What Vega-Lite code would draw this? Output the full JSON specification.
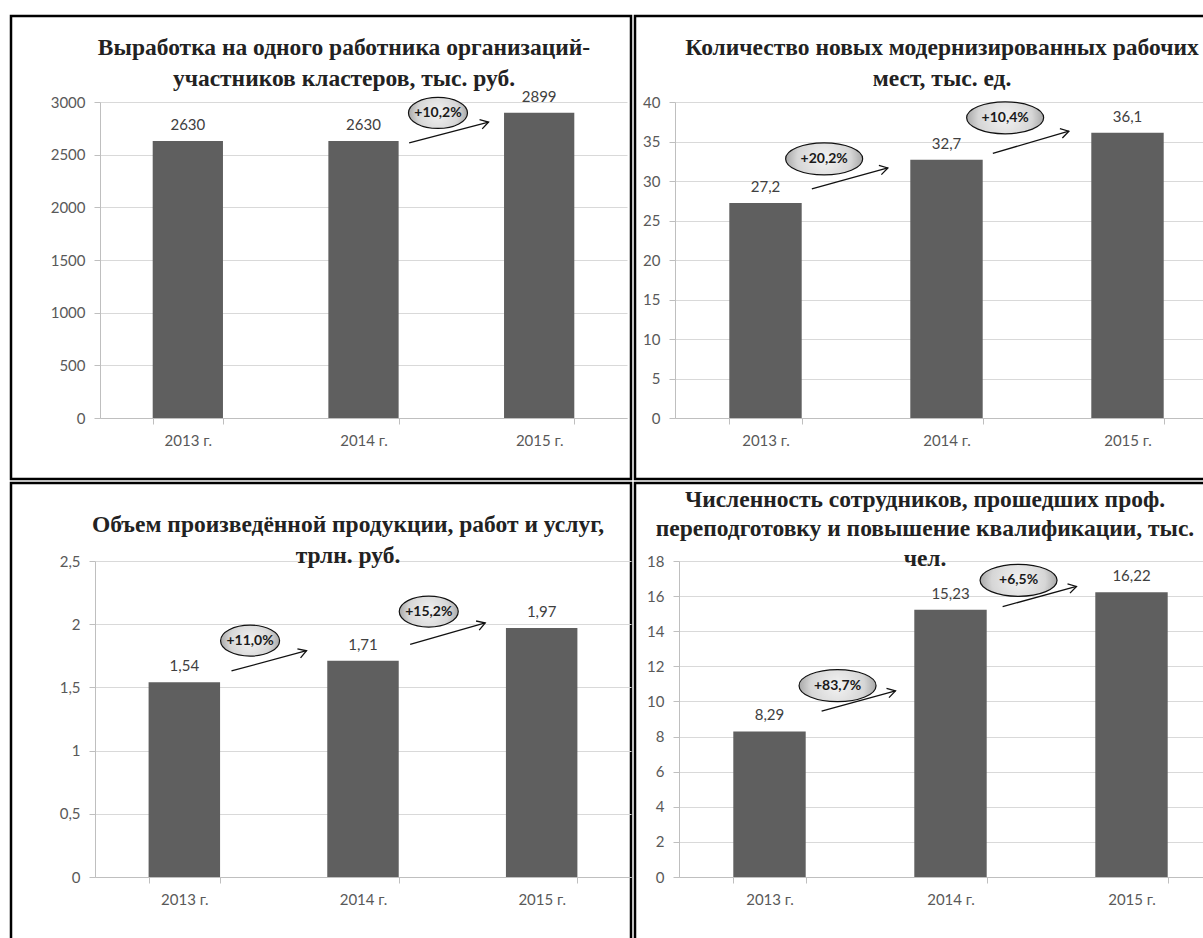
{
  "$schema": "https://vega.github.io/schema/vega-lite/v6.json",
  "padding": {"left": 9, "top": 14, "right": 0, "bottom": 0},
  "background": "white",
  "spacing": 0,
  "datasets": {
    "p1_bars": [
      {"year": "2013 г.", "value": 2630},
      {"year": "2014 г.", "value": 2630},
      {"year": "2015 г.", "value": 2899}
    ],
    "p1_notes": [
      {"from": "2014 г.", "to": "2015 г.", "y_start": 2611, "y_end": 2810, "label_y": 2896, "label": "+10,2%"}
    ],
    "p2_bars": [
      {"year": "2013 г.", "value": 27.2},
      {"year": "2014 г.", "value": 32.7},
      {"year": "2015 г.", "value": 36.1}
    ],
    "p2_notes": [
      {"from": "2013 г.", "to": "2014 г.", "y_start": 29.0, "y_end": 31.65, "label_y": 32.8, "label": "+20,2%"},
      {"from": "2014 г.", "to": "2015 г.", "y_start": 33.5, "y_end": 36.3, "label_y": 38.0, "label": "+10,4%"}
    ],
    "p3_bars": [
      {"year": "2013 г.", "value": 1.54},
      {"year": "2014 г.", "value": 1.71},
      {"year": "2015 г.", "value": 1.97}
    ],
    "p3_notes": [
      {"from": "2013 г.", "to": "2014 г.", "y_start": 1.63, "y_end": 1.79, "label_y": 1.87, "label": "+11,0%"},
      {"from": "2014 г.", "to": "2015 г.", "y_start": 1.84, "y_end": 2.01, "label_y": 2.10, "label": "+15,2%"}
    ],
    "p4_bars": [
      {"year": "2013 г.", "value": 8.29},
      {"year": "2014 г.", "value": 15.23},
      {"year": "2015 г.", "value": 16.22}
    ],
    "p4_notes": [
      {"from": "2013 г.", "to": "2014 г.", "y_start": 9.45, "y_end": 10.6, "label_y": 10.9, "label": "+83,7%"},
      {"from": "2014 г.", "to": "2015 г.", "y_start": 15.4, "y_end": 16.55, "label_y": 16.9, "label": "+6,5%"}
    ]
  },
  "vconcat": [
    {
      "spacing": 0,
      "hconcat": [
        {
          "width": 620,
          "height": 463,
          "title": {"text": ["Выработка на одного работника организаций-", "участников кластеров, тыс. руб."], "dx": 23, "offset": -74},
          "layer": [
            {
              "data": {"name": "p1_bars"},
              "mark": {"type": "bar", "color": "#5f5f5f"},
              "encoding": {
                "x": {"field": "year", "type": "nominal", "sort": null,
                  "scale": {"domain": ["2013 г.", "2014 г.", "2015 г."], "range": [89, 616], "paddingInner": 0.6, "paddingOuter": 0.3},
                  "axis": {"title": null, "offset": -61, "tickBand": "extent", "labelAngle": 0, "grid": false}},
                "y": {"field": "value", "type": "quantitative",
                  "scale": {"domain": [0, 3000], "range": [402, 86], "nice": false},
                  "axis": {"title": null, "offset": -89, "tickCount": 8, "format": "d", "grid": true}}
              }
            },
            {
              "data": {"name": "p1_bars"},
              "mark": {"type": "text", "dy": -16, "baseline": "middle", "font": "Lato", "fontSize": 15, "color": "#404040"},
              "encoding": {
                "x": {"field": "year", "type": "nominal"},
                "y": {"field": "value", "type": "quantitative"},
                "text": {"field": "value", "type": "quantitative", "format": "d"}
              }
            },
            {
              "data": {"name": "p1_notes"},
              "mark": {"type": "rule", "color": "#111111", "strokeWidth": 1.3},
              "encoding": {
                "x": {"field": "from", "type": "nominal", "bandPosition": 1.15},
                "x2": {"field": "to", "bandPosition": -0.22},
                "y": {"field": "y_start", "type": "quantitative"},
                "y2": {"field": "y_end"}
              }
            },
            {
              "data": {"name": "p1_notes"},
              "mark": {"type": "point", "shape": "M -1 -0.6 L 0 0 L -1 0.6", "size": 256, "filled": false, "stroke": "#111111", "strokeWidth": 1.3, "angle": 344, "opacity": 1},
              "encoding": {
                "x": {"field": "to", "type": "nominal", "bandPosition": -0.22},
                "y": {"field": "y_end", "type": "quantitative"}
              }
            },
            {
              "data": {"name": "p1_notes"},
              "mark": {"type": "point", "shape": "M -1 0 C -1 -0.29 -0.552 -0.525 0 -0.525 C 0.552 -0.525 1 -0.29 1 0 C 1 0.29 0.552 0.525 0 0.525 C -0.552 0.525 -1 0.29 -1 0 Z", "size": 3481, "filled": true, "opacity": 1,
                "fill": {"gradient": "radial", "x1": 0.5, "y1": 0.5, "r1": 0, "x2": 0.5, "y2": 0.5, "r2": 0.5, "stops": [{"offset": 0, "color": "#f2f2f2"}, {"offset": 0.7, "color": "#d6d6d6"}, {"offset": 1, "color": "#a8a8a8"}]},
                "stroke": "#111111", "strokeWidth": 1.2},
              "encoding": {
                "x": {"field": "from", "type": "nominal", "bandPosition": 1.56},
                "y": {"field": "label_y", "type": "quantitative"}
              }
            },
            {
              "data": {"name": "p1_notes"},
              "mark": {"type": "text", "baseline": "middle", "font": "Lato", "fontSize": 14, "fontWeight": "bold", "color": "#1a1a1a"},
              "encoding": {
                "x": {"field": "from", "type": "nominal", "bandPosition": 1.56},
                "y": {"field": "label_y", "type": "quantitative"},
                "text": {"field": "label"}
              }
            }
          ]
        },
        {
          "width": 620,
          "height": 463,
          "title": {"text": ["Количество новых модернизированных рабочих", "мест, тыс. ед."], "dx": -3, "offset": -74},
          "layer": [
            {
              "data": {"name": "p2_bars"},
              "mark": {"type": "bar", "color": "#5f5f5f"},
              "encoding": {
                "x": {"field": "year", "type": "nominal", "sort": null,
                  "scale": {"domain": ["2013 г.", "2014 г.", "2015 г."], "range": [40, 583], "paddingInner": 0.6, "paddingOuter": 0.3},
                  "axis": {"title": null, "offset": -61, "tickBand": "extent", "labelAngle": 0, "grid": false}},
                "y": {"field": "value", "type": "quantitative",
                  "scale": {"domain": [0, 40], "range": [402, 86], "nice": false},
                  "axis": {"title": null, "offset": -40, "tickCount": 8, "format": "~g", "grid": true}}
              }
            },
            {
              "data": {"name": "p2_bars"},
              "mark": {"type": "text", "dy": -16, "baseline": "middle", "font": "Lato", "fontSize": 15, "color": "#404040"},
              "encoding": {
                "x": {"field": "year", "type": "nominal"},
                "y": {"field": "value", "type": "quantitative"},
                "text": {"field": "value", "type": "quantitative", "format": ".1f"}
              }
            },
            {
              "data": {"name": "p2_notes"},
              "mark": {"type": "rule", "color": "#111111", "strokeWidth": 1.3},
              "encoding": {
                "x": {"field": "from", "type": "nominal", "bandPosition": 1.14},
                "x2": {"field": "to", "bandPosition": -0.31},
                "y": {"field": "y_start", "type": "quantitative"},
                "y2": {"field": "y_end"}
              }
            },
            {
              "data": {"name": "p2_notes"},
              "mark": {"type": "point", "shape": "M -1 -0.6 L 0 0 L -1 0.6", "size": 256, "filled": false, "stroke": "#111111", "strokeWidth": 1.3, "angle": 345, "opacity": 1},
              "encoding": {
                "x": {"field": "to", "type": "nominal", "bandPosition": -0.31},
                "y": {"field": "y_end", "type": "quantitative"}
              }
            },
            {
              "data": {"name": "p2_notes"},
              "mark": {"type": "point", "shape": "M -1 0 C -1 -0.23 -0.552 -0.416 0 -0.416 C 0.552 -0.416 1 -0.23 1 0 C 1 0.23 0.552 0.416 0 0.416 C -0.552 0.416 -1 0.23 -1 0 Z", "size": 5929, "filled": true, "opacity": 1,
                "fill": {"gradient": "radial", "x1": 0.5, "y1": 0.5, "r1": 0, "x2": 0.5, "y2": 0.5, "r2": 0.5, "stops": [{"offset": 0, "color": "#f2f2f2"}, {"offset": 0.7, "color": "#d6d6d6"}, {"offset": 1, "color": "#a8a8a8"}]},
                "stroke": "#111111", "strokeWidth": 1.2},
              "encoding": {
                "x": {"field": "from", "type": "nominal", "bandPosition": 1.31},
                "y": {"field": "label_y", "type": "quantitative"}
              }
            },
            {
              "data": {"name": "p2_notes"},
              "mark": {"type": "text", "baseline": "middle", "font": "Lato", "fontSize": 14, "fontWeight": "bold", "color": "#1a1a1a"},
              "encoding": {
                "x": {"field": "from", "type": "nominal", "bandPosition": 1.31},
                "y": {"field": "label_y", "type": "quantitative"},
                "text": {"field": "label"}
              }
            }
          ]
        }
      ]
    },
    {
      "spacing": 0,
      "hconcat": [
        {
          "width": 620,
          "height": 463,
          "title": {"text": ["Объем произведённой продукции, работ и услуг,", "трлн. руб."], "dx": 27, "offset": -84},
          "layer": [
            {
              "data": {"name": "p3_bars"},
              "mark": {"type": "bar", "color": "#5f5f5f"},
              "encoding": {
                "x": {"field": "year", "type": "nominal", "sort": null,
                  "scale": {"domain": ["2013 г.", "2014 г.", "2015 г."], "range": [84, 620], "paddingInner": 0.6, "paddingOuter": 0.3},
                  "axis": {"title": null, "offset": -69, "tickBand": "extent", "labelAngle": 0, "grid": false}},
                "y": {"field": "value", "type": "quantitative",
                  "scale": {"domain": [0, 2.5], "range": [394, 78], "nice": false},
                  "axis": {"title": null, "offset": -84, "tickCount": 5, "format": "~g", "grid": true}}
              }
            },
            {
              "data": {"name": "p3_bars"},
              "mark": {"type": "text", "dy": -16, "baseline": "middle", "font": "Lato", "fontSize": 15, "color": "#404040"},
              "encoding": {
                "x": {"field": "year", "type": "nominal"},
                "y": {"field": "value", "type": "quantitative"},
                "text": {"field": "value", "type": "quantitative", "format": ".2f"}
              }
            },
            {
              "data": {"name": "p3_notes"},
              "mark": {"type": "rule", "color": "#111111", "strokeWidth": 1.3},
              "encoding": {
                "x": {"field": "from", "type": "nominal", "bandPosition": 1.16},
                "x2": {"field": "to", "bandPosition": -0.29},
                "y": {"field": "y_start", "type": "quantitative"},
                "y2": {"field": "y_end"}
              }
            },
            {
              "data": {"name": "p3_notes"},
              "mark": {"type": "point", "shape": "M -1 -0.6 L 0 0 L -1 0.6", "size": 256, "filled": false, "stroke": "#111111", "strokeWidth": 1.3, "angle": 341, "opacity": 1},
              "encoding": {
                "x": {"field": "to", "type": "nominal", "bandPosition": -0.29},
                "y": {"field": "y_end", "type": "quantitative"}
              }
            },
            {
              "data": {"name": "p3_notes"},
              "mark": {"type": "point", "shape": "M -1 0 C -1 -0.29 -0.552 -0.525 0 -0.525 C 0.552 -0.525 1 -0.29 1 0 C 1 0.29 0.552 0.525 0 0.525 C -0.552 0.525 -1 0.29 -1 0 Z", "size": 3481, "filled": true, "opacity": 1,
                "fill": {"gradient": "radial", "x1": 0.5, "y1": 0.5, "r1": 0, "x2": 0.5, "y2": 0.5, "r2": 0.5, "stops": [{"offset": 0, "color": "#f2f2f2"}, {"offset": 0.7, "color": "#d6d6d6"}, {"offset": 1, "color": "#a8a8a8"}]},
                "stroke": "#111111", "strokeWidth": 1.2},
              "encoding": {
                "x": {"field": "from", "type": "nominal", "bandPosition": 1.42},
                "y": {"field": "label_y", "type": "quantitative"}
              }
            },
            {
              "data": {"name": "p3_notes"},
              "mark": {"type": "text", "baseline": "middle", "font": "Lato", "fontSize": 14, "fontWeight": "bold", "color": "#1a1a1a"},
              "encoding": {
                "x": {"field": "from", "type": "nominal", "bandPosition": 1.42},
                "y": {"field": "label_y", "type": "quantitative"},
                "text": {"field": "label"}
              }
            }
          ]
        },
        {
          "width": 620,
          "height": 463,
          "title": {"text": ["Численность сотрудников, прошедших проф.", "переподготовку и повышение квалификации, тыс.", "чел."], "dx": -20, "offset": -87, "lineHeight": 29.5},
          "layer": [
            {
              "data": {"name": "p4_bars"},
              "mark": {"type": "bar", "color": "#5f5f5f"},
              "encoding": {
                "x": {"field": "year", "type": "nominal", "sort": null,
                  "scale": {"domain": ["2013 г.", "2014 г.", "2015 г."], "range": [44, 587], "paddingInner": 0.6, "paddingOuter": 0.3},
                  "axis": {"title": null, "offset": -69, "tickBand": "extent", "labelAngle": 0, "grid": false}},
                "y": {"field": "value", "type": "quantitative",
                  "scale": {"domain": [0, 18], "range": [394, 78], "nice": false},
                  "axis": {"title": null, "offset": -44, "tickCount": 8, "format": "~g", "grid": true}}
              }
            },
            {
              "data": {"name": "p4_bars"},
              "mark": {"type": "text", "dy": -16, "baseline": "middle", "font": "Lato", "fontSize": 15, "color": "#404040"},
              "encoding": {
                "x": {"field": "year", "type": "nominal"},
                "y": {"field": "value", "type": "quantitative"},
                "text": {"field": "value", "type": "quantitative", "format": ".2f"}
              }
            },
            {
              "data": {"name": "p4_notes"},
              "mark": {"type": "rule", "color": "#111111", "strokeWidth": 1.3},
              "encoding": {
                "x": {"field": "from", "type": "nominal", "bandPosition": 1.22},
                "x2": {"field": "to", "bandPosition": -0.26},
                "y": {"field": "y_start", "type": "quantitative"},
                "y2": {"field": "y_end"}
              }
            },
            {
              "data": {"name": "p4_notes"},
              "mark": {"type": "point", "shape": "M -1 -0.6 L 0 0 L -1 0.6", "size": 256, "filled": false, "stroke": "#111111", "strokeWidth": 1.3, "angle": 345, "opacity": 1},
              "encoding": {
                "x": {"field": "to", "type": "nominal", "bandPosition": -0.26},
                "y": {"field": "y_end", "type": "quantitative"}
              }
            },
            {
              "data": {"name": "p4_notes"},
              "mark": {"type": "point", "shape": "M -1 0 C -1 -0.23 -0.552 -0.416 0 -0.416 C 0.552 -0.416 1 -0.23 1 0 C 1 0.23 0.552 0.416 0 0.416 C -0.552 0.416 -1 0.23 -1 0 Z", "size": 5929, "filled": true, "opacity": 1,
                "fill": {"gradient": "radial", "x1": 0.5, "y1": 0.5, "r1": 0, "x2": 0.5, "y2": 0.5, "r2": 0.5, "stops": [{"offset": 0, "color": "#f2f2f2"}, {"offset": 0.7, "color": "#d6d6d6"}, {"offset": 1, "color": "#a8a8a8"}]},
                "stroke": "#111111", "strokeWidth": 1.2},
              "encoding": {
                "x": {"field": "from", "type": "nominal", "bandPosition": 1.44},
                "y": {"field": "label_y", "type": "quantitative"}
              }
            },
            {
              "data": {"name": "p4_notes"},
              "mark": {"type": "text", "baseline": "middle", "font": "Lato", "fontSize": 14, "fontWeight": "bold", "color": "#1a1a1a"},
              "encoding": {
                "x": {"field": "from", "type": "nominal", "bandPosition": 1.44},
                "y": {"field": "label_y", "type": "quantitative"},
                "text": {"field": "label"}
              }
            }
          ]
        }
      ]
    }
  ],
  "config": {
    "locale": {"number": {"decimal": ",", "thousands": " ", "grouping": [3], "currency": ["", ""]}},
    "view": {"stroke": "#000000", "strokeWidth": 2.5},
    "title": {"font": "Liberation Serif", "fontSize": 23.5, "fontWeight": "bold", "color": "#222222", "anchor": "middle", "frame": "group", "lineHeight": 31},
    "axis": {
      "labelFont": "Lato", "labelFontSize": 15, "labelColor": "#595959",
      "domainColor": "#bfbfbf", "tickColor": "#bfbfbf", "gridColor": "#d9d9d9",
      "tickSize": 6, "labelPadding": 9
    }
  }
}
